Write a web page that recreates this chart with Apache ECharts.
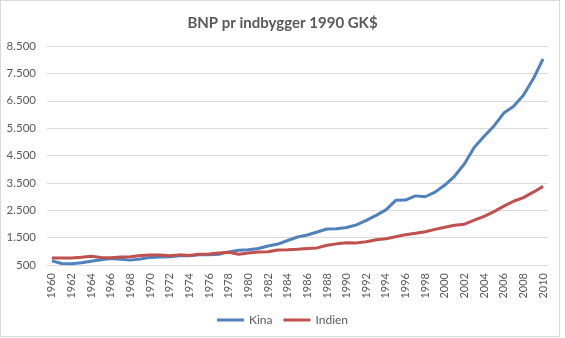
<!DOCTYPE html>
<html>
<head>
<meta charset="utf-8">
<script src="https://cdn.jsdelivr.net/npm/echarts@6/dist/echarts.min.js"></script>
<style>
  html, body { margin: 0; padding: 0; background: #ffffff; }
  #frame { position: absolute; left: 0; top: 0; width: 560px; height: 337px; border: 1px solid #d9d9d9; box-sizing: border-box; }
  #chart { position: absolute; left: 0; top: 0; width: 565px; height: 338px; }
</style>
</head>
<body>
<div id="frame"></div>
<div id="chart"></div>
<script>
const titleText = 'BNP pr indbygger 1990 GK$';
const years = [];
for (let y = 1960; y <= 2010; y++) years.push(String(y));
const seriesNames = ['Kina', 'Indien'];
const kina = [650, 555, 545, 580, 640, 690, 735, 712, 678, 722, 778, 793, 798, 838, 835, 870, 870, 894, 979, 1040,
  1061, 1103, 1192, 1265, 1396, 1522, 1597, 1706, 1816, 1827, 1871, 1967, 2132, 2312, 2515, 2863, 2873, 3025, 2993, 3162,
  3421, 3750, 4200, 4803, 5200, 5580, 6050, 6300, 6700, 7300, 8032];
const indien = [753, 758, 758, 783, 822, 771, 767, 790, 800, 845, 868, 864, 839, 870, 846, 897, 900, 937, 966, 895,
  938, 977, 986, 1050, 1060, 1079, 1103, 1125, 1222, 1272, 1309, 1308, 1348, 1420, 1461, 1531, 1609, 1658, 1716, 1801,
  1880, 1950, 1990, 2140, 2280, 2450, 2650, 2830, 2960, 3160, 3372];
const yMin = 500, yMax = 8500, yStep = 1000;
const colors = ['#4F81BD', '#C0504D'];
const fontFam = 'Lato, "Open Sans", sans-serif';

const chart = echarts.init(document.getElementById('chart'), null, { renderer: 'canvas' });
chart.setOption({
  animation: false,
  backgroundColor: 'transparent',
  color: colors,
  title: {
    text: titleText, left: 'center', top: 11,
    textStyle: { fontFamily: fontFam, fontSize: 15, fontWeight: 'bold', color: '#595959' }
  },
  legend: {
    data: seriesNames, left: 'center', top: 309, icon: 'rect', itemWidth: 27, itemHeight: 3, itemGap: 11,
    textStyle: { fontFamily: fontFam, fontSize: 12, color: '#595959' }
  },
  grid: { left: 47, right: 17, top: 46, bottom: 73, containLabel: false },
  xAxis: {
    type: 'category', data: years, boundaryGap: true,
    axisLine: { lineStyle: { color: '#d9d9d9', width: 1 } },
    axisTick: { show: false },
    axisLabel: { interval: 1, rotate: 90, margin: 8, fontFamily: fontFam, fontSize: 11, color: '#595959' }
  },
  yAxis: {
    type: 'value', min: yMin, max: yMax, interval: yStep,
    axisLine: { show: false }, axisTick: { show: false },
    splitLine: { lineStyle: { color: '#d9d9d9', width: 1 } },
    axisLabel: {
      margin: 11, fontFamily: fontFam, fontSize: 11.5, color: '#595959',
      formatter: v => String(v).replace(/\B(?=(\d{3})+(?!\d))/g, '.')
    }
  },
  series: [
    { name: seriesNames[0], type: 'line', data: kina, symbol: 'none', lineStyle: { width: 3, color: colors[0] } },
    { name: seriesNames[1], type: 'line', data: indien, symbol: 'none', lineStyle: { width: 3, color: colors[1] } }
  ]
});
</script>
</body>
</html>
